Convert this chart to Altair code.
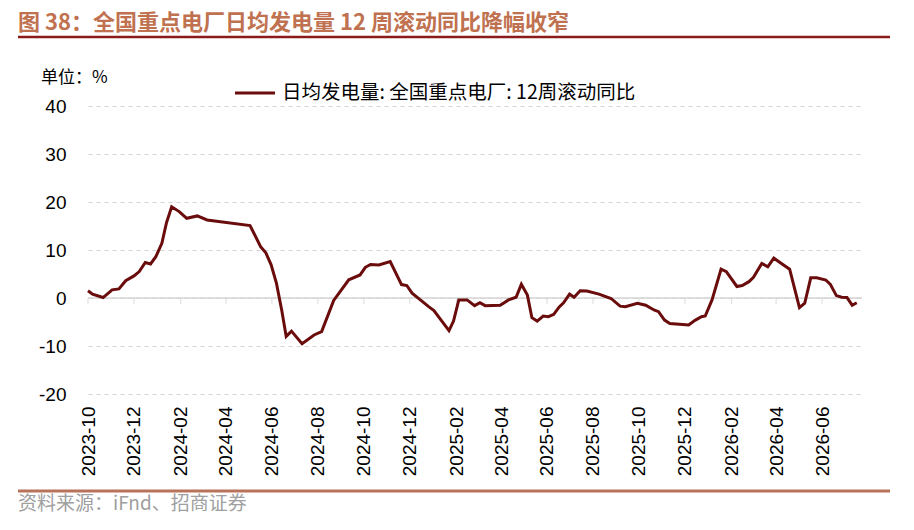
import altair as alt
import pandas as pd

dates = ["2023-10-01","2023-10-07","2023-10-21","2023-11-02","2023-11-11","2023-11-20","2023-12-01","2023-12-08","2023-12-16","2023-12-23",
         "2023-12-30","2024-01-07","2024-01-13","2024-01-20","2024-01-30","2024-02-09","2024-02-23","2024-03-07","2024-05-03","2024-05-17",
         "2024-05-24","2024-05-31","2024-06-07","2024-06-14","2024-06-20","2024-06-27","2024-07-11","2024-07-27","2024-08-06","2024-08-22",
         "2024-09-11","2024-09-26","2024-10-03","2024-10-10","2024-10-21","2024-11-05","2024-11-20","2024-11-27","2024-12-04","2024-12-15",
         "2024-12-26","2025-01-02","2025-01-22","2025-01-28","2025-02-04","2025-02-15","2025-02-25","2025-03-04","2025-03-11","2025-03-31",
         "2025-04-11","2025-04-21","2025-04-28","2025-05-06","2025-05-12","2025-05-19","2025-05-27","2025-06-03","2025-06-10","2025-06-17",
         "2025-06-23","2025-07-01","2025-07-07","2025-07-15","2025-07-24","2025-08-09","2025-08-25","2025-09-06","2025-09-13","2025-09-29",
         "2025-10-10","2025-10-21","2025-10-27","2025-11-04","2025-11-11","2025-12-06","2025-12-15","2025-12-23","2025-12-28","2026-01-06",
         "2026-01-18","2026-01-25","2026-02-08","2026-02-15","2026-02-24","2026-03-02","2026-03-13","2026-03-21","2026-03-29","2026-04-09",
         "2026-04-19","2026-05-02","2026-05-09","2026-05-17","2026-05-25","2026-06-06","2026-06-12","2026-06-20","2026-06-27","2026-07-04",
         "2026-07-11","2026-07-17"]

values = [1.5,0.8,0.1,1.7,1.9,3.6,4.6,5.5,7.4,7.1,
          8.6,11.4,15.6,19.0,18.0,16.6,17.1,16.25,15.1,10.7,
          9.4,6.9,3.1,-2.5,-8.0,-6.9,-9.5,-7.7,-7.0,-0.5,
          3.8,4.8,6.4,7.0,6.9,7.6,2.8,2.6,1.0,-0.4,
          -1.8,-2.6,-6.8,-4.8,-0.4,-0.4,-1.6,-1.0,-1.6,-1.5,
          -0.4,0.15,2.85,0.6,-4.1,-4.8,-3.75,-3.9,-3.4,-1.9,
          -1.0,0.8,0.15,1.5,1.45,0.8,-0.1,-1.7,-1.8,-1.1,
          -1.5,-2.5,-2.85,-4.6,-5.3,-5.6,-4.6,-3.9,-3.75,-0.4,
          6.0,5.5,2.4,2.6,3.4,4.3,7.2,6.5,8.3,7.1,
          6.0,-2.0,-1.1,4.2,4.2,3.75,2.85,0.5,0.15,0.1,
          -1.5,-1.0]

tick_dates = ["2023-10-01","2023-12-01","2024-02-01","2024-04-01","2024-06-01","2024-08-01","2024-10-01","2024-12-01",
              "2025-02-01","2025-04-01","2025-06-01","2025-08-01","2025-10-01","2025-12-01","2026-02-01","2026-04-01","2026-06-01"]
y_ticks = [-20, -10, 0, 10, 20, 30, 40]

title_text = "图 38：全国重点电厂日均发电量 12 周滚动同比降幅收窄"
series_name = "日均发电量: 全国重点电厂: 12周滚动同比"
unit_text = "单位：%"
source_text = "资料来源：iFnd、招商证券"

LINE = "#6a0c0c"
GRID = "#d4d4d4"
CJK = "Noto Sans CJK SC"
LAT = "Liberation Sans"

df = pd.DataFrame({"date": dates, "value": values})
ticks_df = pd.DataFrame({"date": tick_dates})


def dt(s):
    y, m, d = [int(p) for p in s.split("-")]
    return alt.DateTime(year=y, month=m, date=d, utc=True)


xscale = alt.Scale(type="utc", domain=[dt("2023-10-01"), dt("2026-07-24")])
yscale = alt.Scale(domain=[-20, 40])

x_enc = alt.X("date:T", scale=xscale,
              axis=alt.Axis(values=[dt(s) for s in tick_dates],
                            labelExpr="utcFormat(datum.value, '%Y-%m')",
                            labelAngle=270, labelFontSize=19, labelFont=LAT, labelColor="#000000",
                            labelPadding=12, ticks=False, domain=False, grid=False, title=None,
                            labelOverlap=False))
y_enc = alt.Y("value:Q", scale=yscale,
              axis=alt.Axis(values=y_ticks, labelExpr="datum.value + ''",
                            labelFontSize=19, labelFont=LAT, labelColor="#000000",
                            labelPadding=22, ticks=False, domain=False, grid=True, gridColor=GRID,
                            gridDash=[4, 4], gridWidth=1.2, title=None))

line = alt.Chart(df).mark_line(color=LINE, strokeWidth=3).encode(x=x_enc, y=y_enc)

zero = alt.Chart(alt.Data(values=[{}])).mark_rule(color=GRID, strokeWidth=1.5).encode(
    y=alt.datum(0, scale=yscale))

tk = alt.Chart(ticks_df).mark_tick(color=GRID, orient="vertical", size=6, thickness=1.2, yOffset=3).encode(
    x=alt.X("date:T", scale=xscale), y=alt.datum(0, scale=yscale))

one = alt.Data(values=[{}])

title = alt.Chart(one).mark_text(align="left", baseline="middle", font=CJK, fontSize=22,
                                 fontWeight="bold", color="#c0714f").encode(
    x=alt.value(-70), y=alt.value(-83), text=alt.value(title_text))
head_rule = alt.Chart(one).mark_rule(color="#8b1a1a", strokeWidth=2.5).encode(
    x=alt.value(-70), x2=alt.value(802), y=alt.value(-69))
foot_rule = alt.Chart(one).mark_rule(color="#b9735a", strokeWidth=3).encode(
    x=alt.value(-70), x2=alt.value(802), y=alt.value(385))
source = alt.Chart(one).mark_text(align="left", baseline="middle", font=CJK, fontSize=19,
                                  color="#a0a0a0").encode(
    x=alt.value(-70), y=alt.value(398), text=alt.value(source_text))
unit = alt.Chart(one).mark_text(align="left", baseline="middle", font=CJK, fontSize=17,
                                color="#000000").encode(
    x=alt.value(-47), y=alt.value(-28), text=alt.value(unit_text))
leg_line = alt.Chart(one).mark_rule(color=LINE, strokeWidth=3).encode(
    x=alt.value(147), x2=alt.value(187), y=alt.value(-13))
leg_text = alt.Chart(one).mark_text(align="left", baseline="middle", font=CJK, fontSize=19.5,
                                    color="#000000").encode(
    x=alt.value(194), y=alt.value(-13), text=alt.value(series_name))

chart = alt.layer(zero, tk, line, title, head_rule, foot_rule, source, unit, leg_line, leg_text).properties(
    width=774, height=288,
    autosize=alt.AutoSizeParams(type="none"),
    padding={"left": 80, "top": 98, "right": 44, "bottom": 124},
    background="#ffffff",
).configure_view(stroke=None)

chart.save("out.html", embed_options={"renderer": "svg", "actions": False})
